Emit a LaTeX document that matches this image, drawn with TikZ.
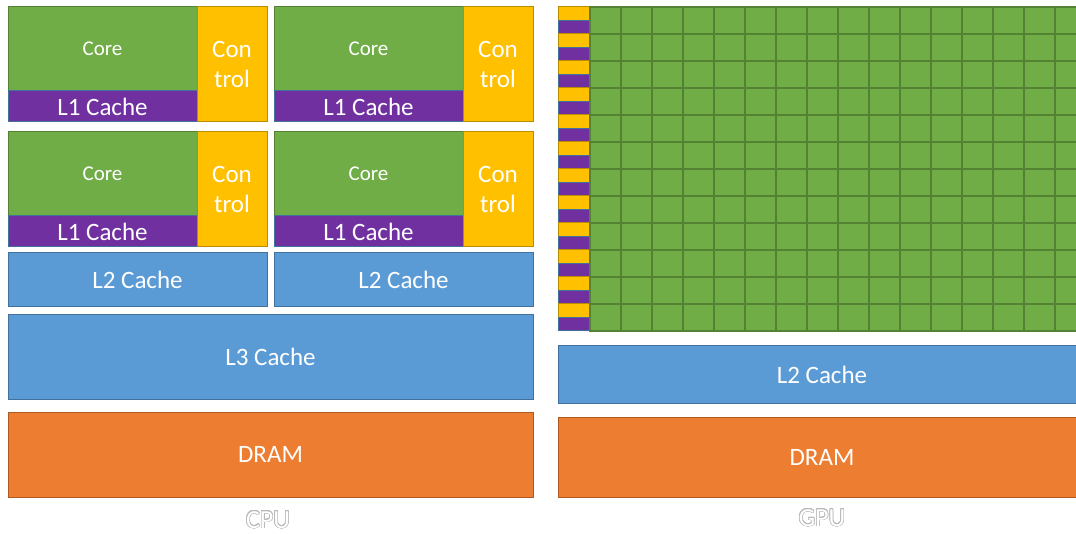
\documentclass[tikz,border=0pt]{standalone}
\usepackage{fontspec}
\setmainfont{Carlito}
\usepackage{contour}
\contourlength{0.6pt}
\contournumber{24}
\definecolor{cgreen}{HTML}{70AD47}
\definecolor{cgreenb}{HTML}{548235}
\definecolor{cyellow}{HTML}{FFC000}
\definecolor{cyellowb}{HTML}{BC8C00}
\definecolor{cpurple}{HTML}{7030A0}
\definecolor{cblue}{HTML}{5B9BD5}
\definecolor{cblueb}{HTML}{41719C}
\definecolor{corange}{HTML}{ED7D31}
\definecolor{coranb}{HTML}{AE5A21}
\tikzset{
  blk/.style={anchor=north west, inner sep=0pt, outer sep=0pt, line width=1pt, text=white,
    font=\fontsize{25}{30}\selectfont, align=center},
  corebox/.style={blk, fill=cgreen, draw=cgreenb, font=\fontsize{21}{25}\selectfont},
  l1box/.style={blk, fill=cpurple, draw=cblueb},
  ctrlbox/.style={blk, fill=cyellow, draw=cyellowb},
  cachebox/.style={blk, fill=cblue, draw=cblueb},
  drambox/.style={blk, fill=corange, draw=coranb},
  cell/.style={fill=cgreen, draw=cgreenb, line width=1.5pt},
  ycell/.style={fill=cyellow, draw=cyellowb, line width=1pt},
  pcell/.style={fill=cpurple, draw=cblueb, line width=1pt},
  lbl/.style={text=white, font=\fontsize{26}{30}\selectfont, inner sep=0pt}
}
\begin{document}
\begin{tikzpicture}[x=1pt,y=-1pt]
\useasboundingbox (0,0) rectangle (1076,534);
\clip (0,0) rectangle (1076,534);
% CPU quad cores
\foreach \cx/\cy/\n in {8/7/a, 274/7/b, 8/132/c, 274/132/d}{
  \node[corebox, minimum width=189pt, minimum height=84pt] (core\n) at (\cx,\cy) {Core};
  \node[l1box, minimum width=189pt, minimum height=31pt] (lone\n) at (\cx,\cy+84) {L1 Cache};
  \node[ctrlbox, minimum width=70pt, minimum height=115pt] (ctrl\n) at (\cx+189,\cy) {Con\\trol};
}
\node[cachebox, minimum width=259pt, minimum height=54pt] (ltwoa) at (8,253) {L2 Cache};
\node[cachebox, minimum width=259pt, minimum height=54pt] (ltwob) at (274,253) {L2 Cache};
\node[cachebox, minimum width=525pt, minimum height=84pt] (lthree) at (8,315) {L3 Cache};
\node[drambox, minimum width=525pt, minimum height=85pt] (dramc) at (8,412) {DRAM};
\node[lbl] (cpu) at (268,520) {\contour{gray!55}{CPU}};
% GPU grid
\foreach \j in {0,...,11}{
  \draw[ycell] (558,{7+27*\j}) rectangle (590,{20.5+27*\j});
  \draw[pcell] (558,{20.5+27*\j}) rectangle (590,{34+27*\j});
  \foreach \i in {0,...,15}{
    \draw[cell] ({590+31*\i},{7+27*\j}) rectangle ({621+31*\i},{34+27*\j});
  }
}
\node[cachebox, minimum width=528pt, minimum height=57pt] (ltwog) at (558,346) {L2 Cache};
\node[drambox, minimum width=528pt, minimum height=80pt] (dramg) at (558,417) {DRAM};
\node[lbl] (gpu) at (822,518) {\contour{gray!55}{GPU}};
\end{tikzpicture}
\end{document}
